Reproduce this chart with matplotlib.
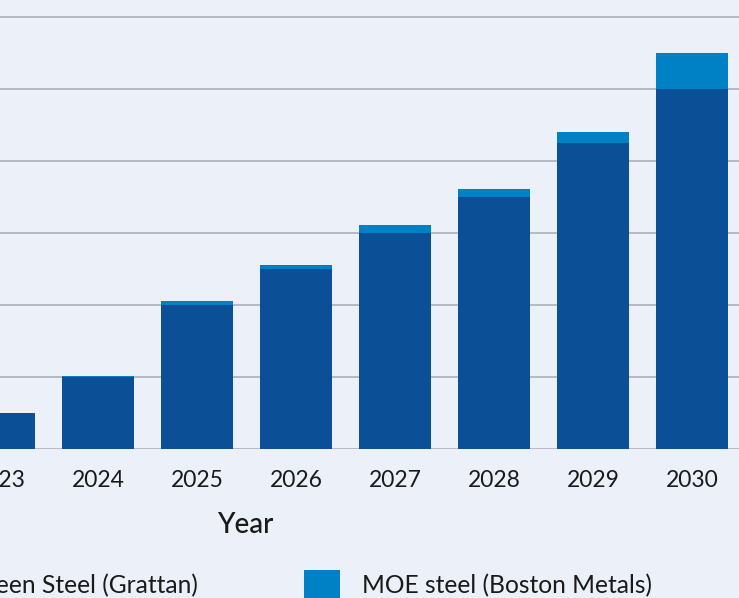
import matplotlib
matplotlib.use("Agg")
import matplotlib.pyplot as plt
from matplotlib.patches import Patch

years = [2023, 2024, 2025, 2026, 2027, 2028, 2029, 2030]
green_steel = [0.5, 1.0, 2.0, 2.5, 3.0, 3.5, 4.25, 5.0]
moe_steel = [0.0, 0.02, 0.055, 0.055, 0.11, 0.11, 0.15, 0.5]
series_names = ["Green Steel (Grattan)", "MOE steel (Boston Metals)"]

BG = "#ECF0F9"
DARK = "#0B4F96"
LIGHT = "#0081C6"
GRID = "#B2B5BF"
TXT = "#1A1A1A"

plt.rcParams["font.family"] = ["Lato", "DejaVu Sans"]

W, H = 739, 598
fig = plt.figure(figsize=(W / 100, H / 100), dpi=100, facecolor=BG)

# axes extends beyond the left edge of the (cropped) figure
ax_left_px = -249
ax_right_px = 739
ax_bottom_px = 598 - 449
ax = fig.add_axes([ax_left_px / W, ax_bottom_px / H,
                   (ax_right_px - ax_left_px) / W, 449 / H])
ax.set_facecolor(BG)

px_per_year = 99
x_right = 2030 + 47 / px_per_year
x_left = x_right - (ax_right_px - ax_left_px) / px_per_year
ax.set_xlim(x_left, x_right)
ax.set_ylim(0, 449 / 72)

width = 72 / px_per_year
ax.bar(years, green_steel, width=width, color=DARK, zorder=3)
ax.bar(years, moe_steel, width=width, bottom=green_steel, color=LIGHT, zorder=3)

ax.set_yticks([0, 1, 2, 3, 4, 5, 6])
ax.yaxis.grid(True, color=GRID, linewidth=1.3, zorder=0)
ax.set_axisbelow(True)
ax.tick_params(axis="y", left=False, labelleft=False)
ax.set_xticks(years)
ax.set_xticklabels([str(y) for y in years])
ax.tick_params(axis="x", length=0, pad=15, labelsize=16.5, labelcolor=TXT)
for s in ax.spines.values():
    s.set_visible(False)

ax.set_xlabel("Year", fontsize=20, color=TXT, labelpad=15, fontweight="medium")

handles = [Patch(facecolor=DARK, edgecolor="none"),
           Patch(facecolor=LIGHT, edgecolor="none")]
fs = 17.7
fig.legend(handles, series_names, loc="upper right",
           bbox_to_anchor=(652 / W, 1 - 570 / H), ncol=2, frameon=False,
           fontsize=fs, labelcolor=TXT, borderpad=0, borderaxespad=0,
           handlelength=1.46, handleheight=1.46, handletextpad=0.9,
           columnspacing=4.3)

fig.savefig("out.png", dpi=100, facecolor=BG)
